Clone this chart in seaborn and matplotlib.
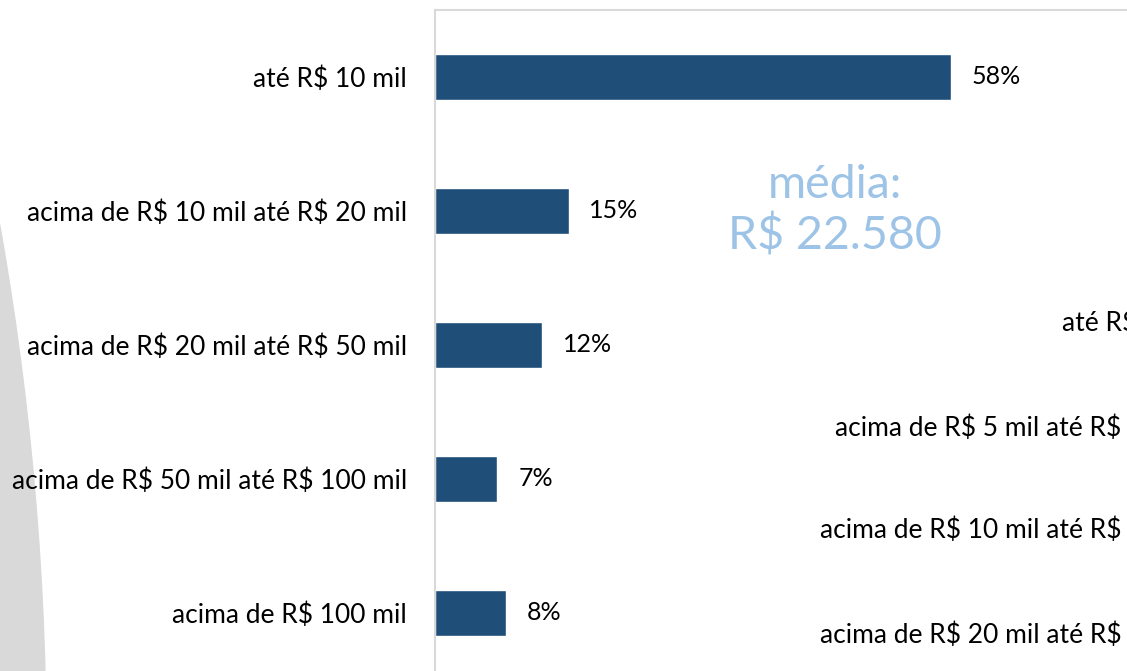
import matplotlib
matplotlib.use("Agg")
import matplotlib.pyplot as plt
import matplotlib.patches as mpatches
import matplotlib.transforms as mtransforms
import pandas as pd
import seaborn as sns

# faixas de receita e percentuais
categorias = ["até R$ 10 mil", "acima de R$ 10 mil até R$ 20 mil",
              "acima de R$ 20 mil até R$ 50 mil", "acima de R$ 50 mil até R$ 100 mil",
              "acima de R$ 100 mil"]
percentuais = [58, 15, 12, 7, 8]
media_texto = "média:\nR$ 22.580"
# rótulos do gráfico vizinho (cortado na borda direita)
rotulos_vizinhos = ["até R$", "acima de R$ 5 mil até R$",
                    "acima de R$ 10 mil até R$", "acima de R$ 20 mil até R$"]

sns.set_theme(style="white")
plt.rcParams["font.family"] = ["Lato", "DejaVu Sans"]
plt.rcParams["text.parse_math"] = False

df = pd.DataFrame({"faixa": categorias, "pct": percentuais})

fig = plt.figure(figsize=(11.27, 6.71), dpi=100)
W, H = 1127, 671

# faixa cinza curva no fundo, à esquerda
arco = mpatches.Ellipse((46 - 3000, H - 750), 6000, 6000, color="#d9d9d9",
                        transform=mtransforms.IdentityTransform(), zorder=0)
fig.add_artist(arco)

ax = fig.add_axes([435 / W, (H - 680) / H, 712 / W, 670 / H])
ax.patch.set_alpha(0)
sns.barplot(data=df, x="pct", y="faixa", color="#1f4e79", saturation=1,
            width=0.35, orient="h", ax=ax)
ax.set_xlim(0, 80)
ax.set_ylim(4.5, -0.5)
ax.set_xlabel("")
ax.set_ylabel("")
ax.set_xticks([])
ax.tick_params(axis="y", length=0, pad=20, labelsize=19, labelcolor="#000000")
for s in ["left", "top"]:
    ax.spines[s].set_color("#d9d9d9")
    ax.spines[s].set_linewidth(1.5)
ax.spines["right"].set_visible(False)
ax.spines["bottom"].set_visible(False)

for i, v in enumerate(percentuais):
    ax.annotate(f"{v}%", (v, i), xytext=(15, 0), textcoords="offset points",
                va="center", ha="left", fontsize=18, color="#000000")

fig.text(835 / W, 1 - 211 / H, media_texto, ha="center", va="center",
         fontsize=33.5, color="#9dc3e6", linespacing=1.2)

ys = [323, 428, 530, 635]
xs = [1062, 835, 820, 820]
for t, x, y in zip(rotulos_vizinhos, xs, ys):
    fig.text(x / W, 1 - y / H, t, ha="left", va="center", fontsize=19, color="#000000")

plt.savefig("out.png", dpi=100)
